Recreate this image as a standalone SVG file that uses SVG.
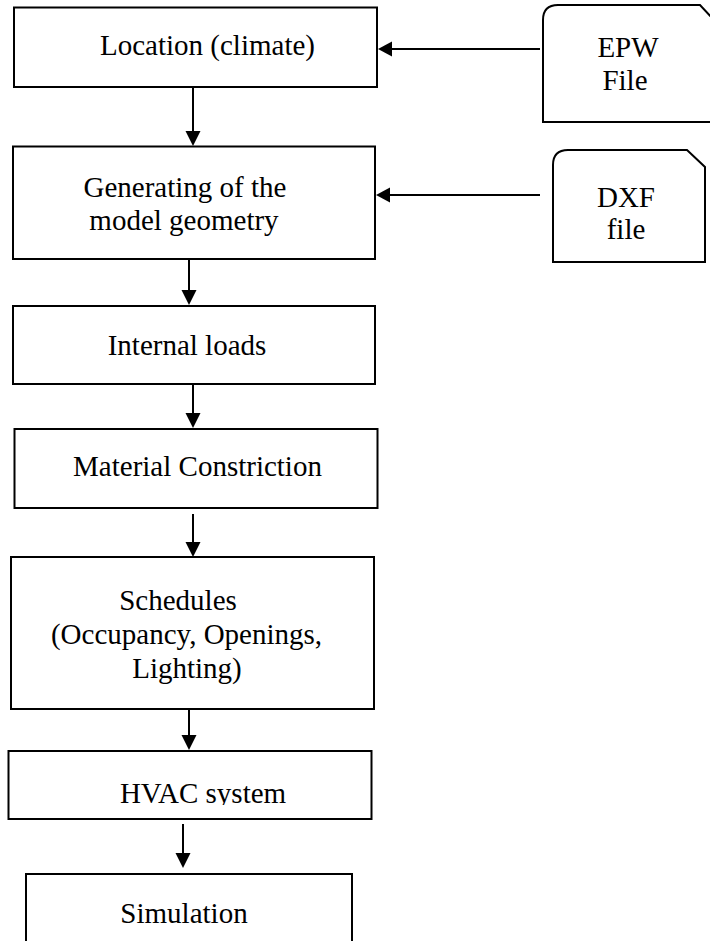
<svg xmlns="http://www.w3.org/2000/svg" width="710" height="941" viewBox="0 0 710 941">
  <style>
    .box { fill: #ffffff; stroke: #000000; stroke-width: 2; }
    .lbl { font-family: "Liberation Serif", "Times New Roman", serif; font-size: 29px; fill: #000000; text-anchor: middle; }
    .edge { stroke: #000000; stroke-width: 2; fill: none; }
    .head { fill: #000000; }
  </style>
  <defs>
    <clipPath id="hvacClip">
      <rect x="0" y="740" width="710" height="65"/>
    </clipPath>
  </defs>
  <rect width="710" height="941" fill="#ffffff"/>

  <g id="location">
    <rect class="box" x="14" y="7.5" width="363" height="79.5"/>
    <text class="lbl" x="207.5" y="55">Location (climate)</text>
  </g>

  <g id="geometry">
    <rect class="box" x="13" y="146.5" width="362" height="112.5"/>
    <text class="lbl" x="185" y="197">Generating of the</text>
    <text class="lbl" x="184" y="230">model geometry</text>
  </g>

  <g id="internal-loads">
    <rect class="box" x="13" y="306" width="362" height="78"/>
    <text class="lbl" x="187" y="355">Internal loads</text>
  </g>

  <g id="material">
    <rect class="box" x="14.5" y="429" width="363" height="79"/>
    <text class="lbl" x="197.5" y="476">Material Constriction</text>
  </g>

  <g id="schedules">
    <rect class="box" x="11" y="557" width="363" height="152"/>
    <text class="lbl" x="178" y="610">Schedules</text>
    <text class="lbl" x="186.5" y="644">(Occupancy, Openings,</text>
    <text class="lbl" x="187" y="678">Lighting)</text>
  </g>

  <g id="hvac">
    <rect class="box" x="8.5" y="751" width="363" height="68"/>
    <text class="lbl" x="203" y="803" clip-path="url(#hvacClip)">HVAC system</text>
  </g>

  <g id="simulation">
    <rect class="box" x="26" y="874" width="326" height="80"/>
    <text class="lbl" x="184" y="923">Simulation</text>
  </g>

  <g id="epw-file">
    <path class="box" d="M543,122 L543,20 Q543,5 558,5 L700,5 L712,18 L712,122 Z"/>
    <text class="lbl" x="628" y="57">EPW</text>
    <text class="lbl" x="625" y="90">File</text>
  </g>

  <g id="dxf-file">
    <path class="box" d="M553,262 L553,165 Q553,150 568,150 L687,150 L705,167 L705,262 Z"/>
    <text class="lbl" x="626" y="207">DXF</text>
    <text class="lbl" x="626" y="239">file</text>
  </g>

  <g id="connectors">
    <!-- vertical flow -->
    <line class="edge" x1="193" y1="87" x2="193" y2="133"/>
    <polygon class="head" points="185.5,131 200.5,131 193,146"/>

    <line class="edge" x1="189" y1="259" x2="189" y2="292"/>
    <polygon class="head" points="181.5,290 196.5,290 189,305"/>

    <line class="edge" x1="193" y1="384" x2="193" y2="415"/>
    <polygon class="head" points="185.5,413 200.5,413 193,428"/>

    <line class="edge" x1="193" y1="514" x2="193" y2="544"/>
    <polygon class="head" points="185.5,542 200.5,542 193,557"/>

    <line class="edge" x1="189" y1="709" x2="189" y2="737"/>
    <polygon class="head" points="181.5,735 196.5,735 189,750"/>

    <line class="edge" x1="183" y1="824" x2="183" y2="855"/>
    <polygon class="head" points="175.5,853 190.5,853 183,868"/>

    <!-- file inputs -->
    <line class="edge" x1="540" y1="49" x2="390" y2="49"/>
    <polygon class="head" points="392,41.5 392,56.5 378,49"/>

    <line class="edge" x1="540" y1="195" x2="388" y2="195"/>
    <polygon class="head" points="390,187.5 390,202.5 376,195"/>
  </g>
</svg>
